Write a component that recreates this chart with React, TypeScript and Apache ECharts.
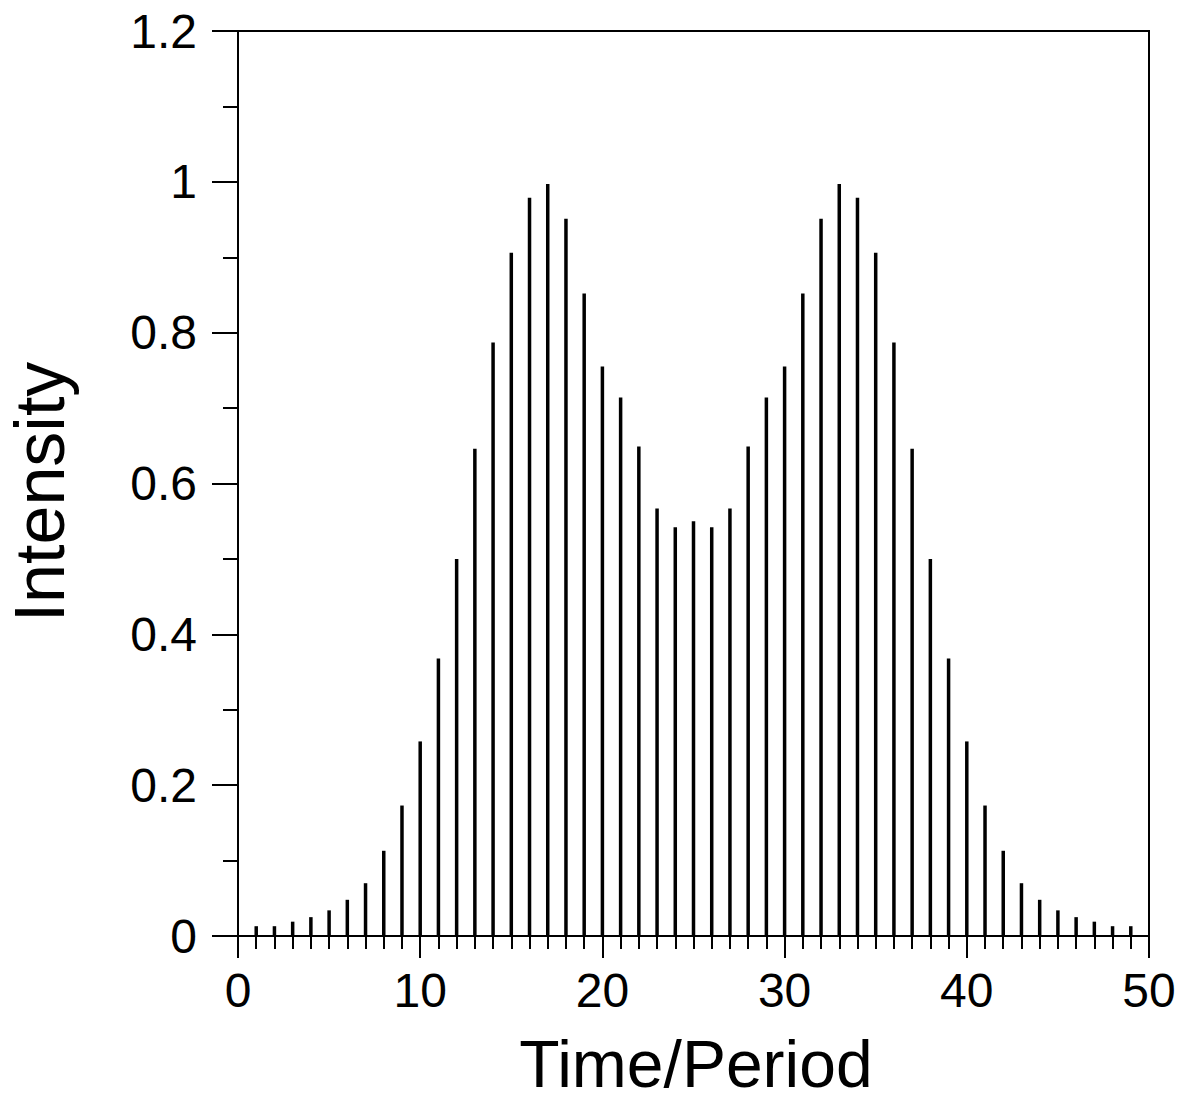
import React, { useEffect, useRef } from "react";
import * as echarts from "echarts";

const periods = [
  1, 2, 3, 4, 5, 6, 7, 8, 9, 10, 11, 12, 13, 14, 15, 16, 17, 18, 19, 20, 21, 22, 23, 24, 25,
  26, 27, 28, 29, 30, 31, 32, 33, 34, 35, 36, 37, 38, 39, 40, 41, 42, 43, 44, 45, 46, 47, 48, 49,
];
const intensity = [
  0.013, 0.013, 0.019, 0.025, 0.034, 0.048, 0.07, 0.113, 0.173, 0.258, 0.368, 0.5, 0.646, 0.787,
  0.906, 0.979, 0.997, 0.951, 0.852, 0.755, 0.714, 0.649, 0.567, 0.542, 0.55, 0.542, 0.567, 0.649,
  0.714, 0.755, 0.852, 0.951, 0.997, 0.979, 0.906, 0.787, 0.646, 0.5, 0.368, 0.258, 0.173, 0.113,
  0.07, 0.048, 0.034, 0.025, 0.019, 0.013, 0.013,
];
const xTitle = "Time/Period";
const yTitle = "Intensity";

export default function App() {
  const ref = useRef<HTMLDivElement>(null);
  useEffect(() => {
    if (!ref.current) return;
    const chart = echarts.init(ref.current, null, { renderer: "svg" });
    const font = "'Liberation Sans', Arial, sans-serif";
    const data = periods.map((p, i) => [p, intensity[i]]);
    chart.setOption({
      animation: false,
      backgroundColor: "#fff",
      grid: {
        left: 238,
        right: 33,
        top: 31,
        bottom: 170,
        show: true,
        borderColor: "#000",
        borderWidth: 2,
      },
      xAxis: {
        type: "value",
        min: 0,
        max: 50,
        interval: 10,
        axisLine: { show: true, onZero: false, lineStyle: { color: "#000", width: 2 } },
        axisTick: { show: true, inside: false, length: 22, lineStyle: { color: "#000", width: 2 } },
        minorTick: { show: true, splitNumber: 10, length: 13, lineStyle: { color: "#000", width: 2 } },
        splitLine: { show: false },
        axisLabel: { color: "#000", fontSize: 48, fontFamily: font, margin: 30 },
      },
      yAxis: {
        type: "value",
        min: 0,
        max: 1.2,
        interval: 0.2,
        axisLine: { show: true, lineStyle: { color: "#000", width: 2 } },
        axisTick: { show: true, inside: false, length: 26, lineStyle: { color: "#000", width: 2 } },
        minorTick: { show: true, splitNumber: 2, length: 15, lineStyle: { color: "#000", width: 2 } },
        splitLine: { show: false },
        axisLabel: { color: "#000", fontSize: 48, fontFamily: font, margin: 41 },
      },
      series: [
        {
          type: "custom",
          data,
          renderItem: (params: any, api: any) => {
            const x = api.value(0);
            const y = api.value(1);
            const top = api.coord([x, y]);
            const base = api.coord([x, 0]);
            return {
              type: "line",
              shape: { x1: base[0], y1: base[1], x2: top[0], y2: top[1] },
              style: { stroke: "#000", lineWidth: 3.5 },
            };
          },
        },
      ],
      graphic: [
        {
          type: "text",
          x: 696,
          y: 1064,
          style: {
            text: xTitle,
            font: `66px ${font}`,
            fill: "#000",
            align: "center",
            verticalAlign: "middle",
          },
        },
        {
          type: "text",
          x: 40,
          y: 492,
          rotation: Math.PI / 2,
          style: {
            text: yTitle,
            font: `70px ${font}`,
            fill: "#000",
            align: "center",
            verticalAlign: "middle",
          },
        },
      ],
    });
    return () => chart.dispose();
  }, []);
  return (
    <div
      ref={ref}
      style={{ position: "absolute", left: 0, top: 0, width: 1182, height: 1106 }}
    />
  );
}
